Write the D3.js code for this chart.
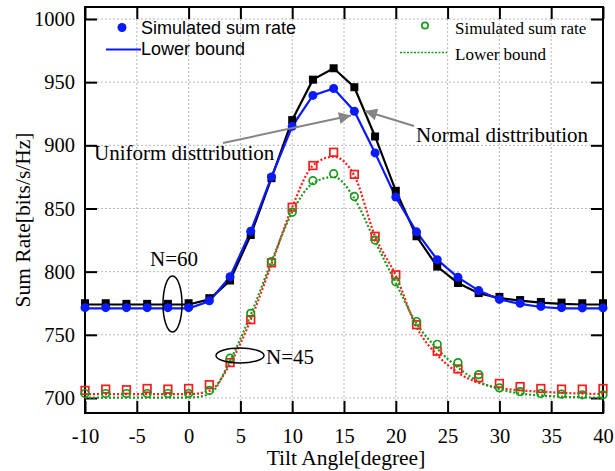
<!DOCTYPE html>
<html>
<head>
<meta charset="utf-8">
<script src="https://cdn.jsdelivr.net/npm/d3@7"></script>
<style>
  body { margin: 0; background: #fff; }
  svg { display: block; }
</style>
</head>
<body>
<svg id="chart" width="615" height="471"></svg>
<script>
// tilt angles (degree)
var angles = [-10, -8, -6, -4, -2, 0, 2, 4, 6, 8, 10, 12, 14, 16, 18, 20, 22, 24, 26, 28, 30, 32, 34, 36, 38, 40];

// N=60, black squares + black line
var blackSim = [775, 775, 774.5, 774.5, 774.5, 775, 779, 793, 829, 874, 920, 952, 961, 946, 907, 864, 828, 804, 791, 783, 780, 777.5, 776, 775.5, 775, 775];
var blackLB  = [774, 774, 774, 774, 774, 774, 778, 793, 829, 874, 920, 952, 961, 946, 907, 864, 828, 804, 791, 783, 779, 777, 775.5, 774.5, 774, 774];
// N=60, blue circles + blue line
var blueSim = [771.5, 771.5, 771.5, 771.5, 771.5, 771.5, 777, 796, 832, 875, 915, 939.5, 945, 927, 894, 859, 831.5, 809.5, 795.5, 785, 778, 775, 772.5, 771.5, 771.3, 771.3];
var blueLB  = [771, 771, 771, 771, 771, 771, 776.5, 796, 832, 875, 915, 939.5, 945, 927, 894, 859, 831.5, 809.5, 795.5, 785, 778, 774.5, 772, 771, 771, 771];
// N=45, red squares + red dotted line
var redSim = [706, 707, 706.5, 707.5, 707, 707.5, 710.5, 728, 762, 807, 851, 884, 894.5, 877, 828, 797.5, 758, 737, 723, 716, 711.5, 709, 707.5, 707, 707, 707.5];
var redLB  = [703, 703, 703, 703, 703, 703, 705.5, 727, 762, 806, 851, 884, 891, 876, 828, 797, 756, 734, 720, 712, 708, 706, 705, 704, 703.5, 703];
// N=45, green circles + green dotted line
var greenSim = [703.5, 703.5, 703.5, 703.5, 703.5, 703.5, 706, 731.5, 767, 808, 847, 872, 877.5, 859.5, 825, 792, 760.5, 742.5, 728, 718.5, 708, 705, 703.5, 703, 702.5, 702.5];
var greenLB  = [700.3, 700.3, 700.3, 700.3, 700.3, 700.3, 703, 729.5, 766, 808, 847, 870, 875, 858, 824, 791, 759, 739, 724, 713, 707, 703.5, 702, 701, 700.5, 700.3];

var xTicks = [-10, -5, 0, 5, 10, 15, 20, 25, 30, 35, 40];
var yTicks = [700, 750, 800, 850, 900, 950, 1000];

var svg = d3.select("#chart");
var serif = "'Liberation Serif', 'Times New Roman', serif";
var sans = "'Liberation Sans', Arial, sans-serif";

var pLeft = 85, pRight = 603, pTop = 7, pBottom = 413;
var x = d3.scaleLinear().domain([-10, 40]).range([pLeft, pRight]);
var y = d3.scaleLinear().domain([688.1, 1009.5]).range([pBottom, pTop]);
var plain = function (d) { return String(d); };

// grid
svg.append("g")
  .selectAll("line")
  .data(xTicks.slice(1, -1))
  .enter()
  .append("line")
  .attr("x1", function (d) { return x(d); })
  .attr("x2", function (d) { return x(d); })
  .attr("y1", pTop)
  .attr("y2", pBottom)
  .attr("stroke", "#b8b8b8")
  .attr("stroke-width", 1)
  .attr("stroke-dasharray", "2,2");

svg.append("g")
  .selectAll("line")
  .data(yTicks)
  .enter()
  .append("line")
  .attr("x1", pLeft)
  .attr("x2", pRight)
  .attr("y1", function (d) { return y(d); })
  .attr("y2", function (d) { return y(d); })
  .attr("stroke", "#b8b8b8")
  .attr("stroke-width", 1)
  .attr("stroke-dasharray", "2,2");

// axes, ticks pointing inward
function styleAxis(g) {
  g.select(".domain").remove();
  g.selectAll("line").attr("stroke", "#000").attr("stroke-width", 2);
  g.selectAll("text").attr("font-family", serif).attr("font-size", 20.5).attr("fill", "#000");
}

svg.append("g")
  .attr("transform", "translate(0," + pBottom + ")")
  .call(d3.axisBottom(x).tickValues(xTicks).tickSize(-12).tickPadding(15).tickFormat(plain))
  .call(styleAxis);

svg.append("g")
  .attr("transform", "translate(0," + pTop + ")")
  .call(d3.axisTop(x).tickValues(xTicks).tickSize(-12).tickFormat(""))
  .call(styleAxis);

svg.append("g")
  .attr("transform", "translate(" + pLeft + ",0)")
  .call(d3.axisLeft(y).tickValues(yTicks).tickSize(-12).tickPadding(10).tickFormat(plain))
  .call(styleAxis);

svg.append("g")
  .attr("transform", "translate(" + pRight + ",0)")
  .call(d3.axisRight(y).tickValues(yTicks).tickSize(-12).tickFormat(""))
  .call(styleAxis);

svg.append("rect")
  .attr("x", pLeft)
  .attr("y", pTop)
  .attr("width", pRight - pLeft)
  .attr("height", pBottom - pTop)
  .attr("fill", "none")
  .attr("stroke", "#000")
  .attr("stroke-width", 2);

// axis titles
svg.append("text")
  .attr("x", 346)
  .attr("y", 465)
  .attr("text-anchor", "middle")
  .attr("font-family", serif)
  .attr("font-size", 21.5)
  .text("Tilt Angle[degree]");

svg.append("text")
  .attr("transform", "translate(30,220) rotate(-90)")
  .attr("text-anchor", "middle")
  .attr("font-family", serif)
  .attr("font-size", 21.5)
  .text("Sum Rate[bits/s/Hz]");

// series
var linear = d3.line()
  .x(function (d, i) { return x(angles[i]); })
  .y(function (d) { return y(d); });
var smooth = d3.line()
  .x(function (d, i) { return x(angles[i]); })
  .y(function (d) { return y(d); })
  .curve(d3.curveMonotoneX);

svg.append("path").datum(blackLB).attr("d", linear)
  .attr("fill", "none").attr("stroke", "#000").attr("stroke-width", 2.2);
svg.append("path").datum(blueLB).attr("d", linear)
  .attr("fill", "none").attr("stroke", "#0a1aff").attr("stroke-width", 2.2);
svg.append("path").datum(redLB).attr("d", smooth)
  .attr("fill", "none").attr("stroke", "#ff1a1a").attr("stroke-width", 2.2).attr("stroke-dasharray", "2,2");
svg.append("path").datum(greenLB).attr("d", smooth)
  .attr("fill", "none").attr("stroke", "#1a9a1a").attr("stroke-width", 2.2).attr("stroke-dasharray", "2,2");

svg.append("g").selectAll("rect")
  .data(blackSim).enter().append("rect")
  .attr("x", function (d, i) { return x(angles[i]) - 4; })
  .attr("y", function (d) { return y(d) - 4; })
  .attr("width", 8).attr("height", 8)
  .attr("fill", "#000");

svg.append("g").selectAll("circle")
  .data(blueSim).enter().append("circle")
  .attr("cx", function (d, i) { return x(angles[i]); })
  .attr("cy", function (d) { return y(d); })
  .attr("r", 4.5)
  .attr("fill", "#0a1aff");

svg.append("g").selectAll("rect")
  .data(redSim).enter().append("rect")
  .attr("x", function (d, i) { return x(angles[i]) - 3.8; })
  .attr("y", function (d) { return y(d) - 3.8; })
  .attr("width", 7.6).attr("height", 7.6)
  .attr("fill", "none").attr("stroke", "#ff1a1a").attr("stroke-width", 1.7);

svg.append("g").selectAll("circle")
  .data(greenSim).enter().append("circle")
  .attr("cx", function (d, i) { return x(angles[i]); })
  .attr("cy", function (d) { return y(d); })
  .attr("r", 3.8)
  .attr("fill", "none").attr("stroke", "#1a9a1a").attr("stroke-width", 1.7);

// legend, left
svg.append("circle").attr("cx", 122).attr("cy", 27.5).attr("r", 4.5).attr("fill", "#0a1aff");
svg.append("text").attr("x", 141).attr("y", 33.5)
  .attr("font-family", sans).attr("font-size", 18).text("Simulated sum rate");
svg.append("line").attr("x1", 106).attr("x2", 141).attr("y1", 49.5).attr("y2", 49.5)
  .attr("stroke", "#0a1aff").attr("stroke-width", 2.2);
svg.append("text").attr("x", 141).attr("y", 55)
  .attr("font-family", sans).attr("font-size", 18).text("Lower bound");

// legend, right
svg.append("circle").attr("cx", 425).attr("cy", 25.5).attr("r", 3.2)
  .attr("fill", "none").attr("stroke", "#1a9a1a").attr("stroke-width", 1.7);
svg.append("text").attr("x", 455).attr("y", 33.5)
  .attr("font-family", serif).attr("font-size", 17).text("Simulated sum rate");
svg.append("line").attr("x1", 400).attr("x2", 447).attr("y1", 52.5).attr("y2", 52.5)
  .attr("stroke", "#1a9a1a").attr("stroke-width", 1.6).attr("stroke-dasharray", "2,1.5");
svg.append("text").attr("x", 455).attr("y", 59.5)
  .attr("font-family", serif).attr("font-size", 17).text("Lower bound");

// annotations
var defs = svg.append("defs");
defs.append("marker")
  .attr("id", "head")
  .attr("viewBox", "0 0 10 10")
  .attr("refX", 10).attr("refY", 5)
  .attr("markerWidth", 9).attr("markerHeight", 6)
  .attr("markerUnits", "strokeWidth")
  .attr("orient", "auto")
  .append("path").attr("d", "M0,0L10,5L0,10Z").attr("fill", "#858585");

svg.append("line").attr("x1", 223).attr("y1", 143).attr("x2", 351).attr("y2", 115.5)
  .attr("stroke", "#858585").attr("stroke-width", 2).attr("marker-end", "url(#head)");
svg.append("line").attr("x1", 414).attr("y1", 126).attr("x2", 365).attr("y2", 111)
  .attr("stroke", "#858585").attr("stroke-width", 2).attr("marker-end", "url(#head)");

svg.append("text").attr("x", 94).attr("y", 160)
  .attr("font-family", serif).attr("font-size", 21).text("Uniform disttribution");
svg.append("text").attr("x", 416).attr("y", 141.5)
  .attr("font-family", serif).attr("font-size", 21).text("Normal disttribution");

svg.append("text").attr("x", 150).attr("y", 266)
  .attr("font-family", serif).attr("font-size", 21).text("N=60");
svg.append("ellipse").attr("cx", 172.5).attr("cy", 304).attr("rx", 9.5).attr("ry", 28)
  .attr("fill", "none").attr("stroke", "#000").attr("stroke-width", 1.5);

svg.append("text").attr("x", 266).attr("y", 363.5)
  .attr("font-family", serif).attr("font-size", 21).text("N=45");
svg.append("ellipse").attr("cx", 240).attr("cy", 355.5).attr("rx", 24).attr("ry", 7.5)
  .attr("fill", "none").attr("stroke", "#000").attr("stroke-width", 1.5);
</script>
</body>
</html>
